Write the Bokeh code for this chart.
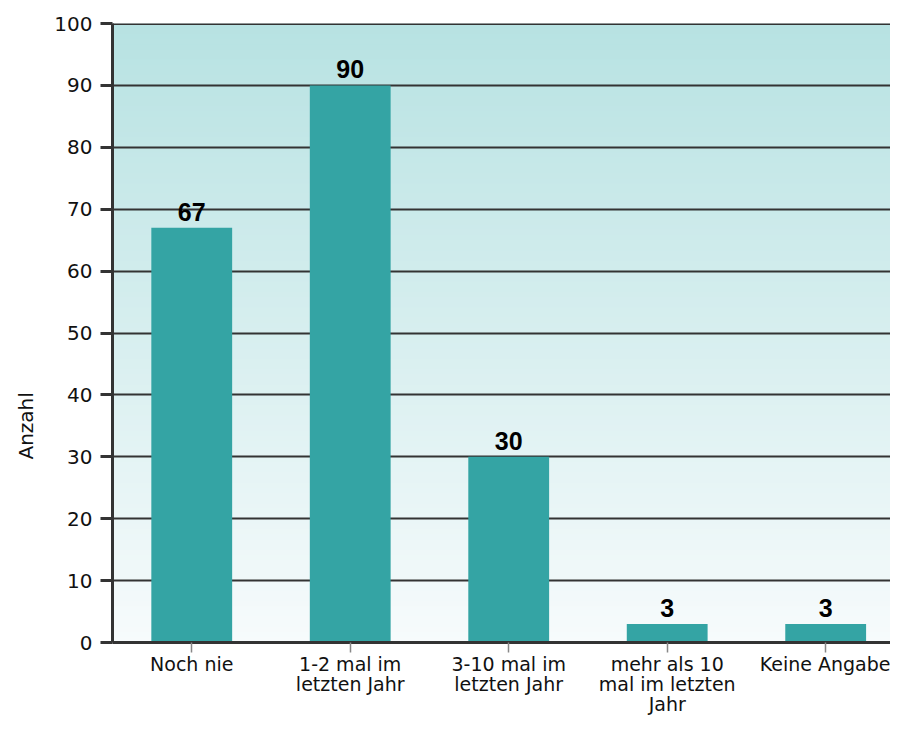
from bokeh.plotting import figure
from bokeh.models import Range1d, FixedTicker, Span, Title
from bokeh.embed import file_html
from bokeh.resources import INLINE
from bokeh.core.properties import value

# ---- data ----
categories = [
    "Noch nie",
    "1-2 mal im\nletzten Jahr",
    "3-10 mal im\nletzten Jahr",
    "mehr als 10\nmal im letzten\nJahr",
    "Keine Angabe",
]
counts = [67, 90, 30, 3, 3]
y_ticks = [0, 10, 20, 30, 40, 50, 60, 70, 80, 90, 100]
y_label = "Anzahl"

x_pos = list(range(len(categories)))

W, H = 890, 717
p = figure(width=W, height=H, output_backend="svg", toolbar_location=None,
           x_range=Range1d(-0.5, 4.409), y_range=Range1d(0, 100),
           min_border_left=112, min_border_top=23, min_border_right=0,
           min_border_bottom=60)
p.outline_line_color = None
p.background_fill_color = "white"
p.border_fill_color = "white"

# background gradient (style only)
n = 120
top_c = (183, 226, 226)
bot_c = (247, 251, 252)
step = 100.0 / n
bb = [i * step for i in range(n)]
tt = [min(100.0, (i + 1.6) * step) for i in range(n)]
cols = ["#%02x%02x%02x" % tuple(int(round(b + (t - b) * (i + 0.5) / n)) for b, t in zip(bot_c, top_c))
        for i in range(n)]
p.quad(left=-2, right=8, bottom=bb, top=tt, fill_color=cols, line_color=None, level="image")

# grid
p.xgrid.grid_line_color = None
p.ygrid.ticker = FixedTicker(ticks=y_ticks)
p.ygrid.grid_line_color = "#333333"
p.ygrid.grid_line_width = 2
p.add_layout(Span(location=100, dimension="width", line_color="#333333", line_width=3))

# bars
p.vbar(x=x_pos, top=counts, width=0.51, fill_color="#34a4a4", line_color=None)

# value labels
p.text(x=x_pos, y=counts, text=[str(c) for c in counts],
       text_font=value("Liberation Sans"), text_font_style="bold", text_font_size="25px",
       text_align="center", text_baseline="bottom", y_offset=-7, text_color="#000000")

# x axis
xa = p.xaxis[0]
xa.ticker = FixedTicker(ticks=x_pos)
xa.major_label_overrides = {i: c for i, c in zip(x_pos, categories)}
xa.axis_line_width = 3
xa.axis_line_color = "#333333"
xa.major_tick_line_color = "#888888"
xa.major_tick_line_width = 1.5
xa.major_tick_out = 10
xa.major_tick_in = 0
xa.minor_tick_line_color = None
xa.major_label_text_font = "DejaVu Sans"
xa.major_label_text_font_size = "19px"
xa.major_label_text_color = "#111111"
xa.major_label_standoff = 0
xa.major_label_text_line_height = 0.92

# y axis
ya = p.yaxis[0]
ya.ticker = FixedTicker(ticks=y_ticks)
ya.axis_line_width = 3
ya.axis_line_color = "#333333"
ya.major_tick_line_color = "#333333"
ya.major_tick_line_width = 3
ya.major_tick_out = 12
ya.major_tick_in = 0
ya.minor_tick_line_color = None
ya.major_label_text_font = "DejaVu Sans"
ya.major_label_text_font_size = "20px"
ya.major_label_text_color = "#111111"
ya.major_label_standoff = 8

# y axis title, a little below the frame centre as in the original
p.add_layout(Title(text=y_label, align="left", vertical_align="top", offset=183, standoff=24,
                   text_font="DejaVu Sans", text_font_size="20px", text_font_style="normal",
                   text_color="#111111"), "left")

open("out.html", "w").write(file_html(p, INLINE))
